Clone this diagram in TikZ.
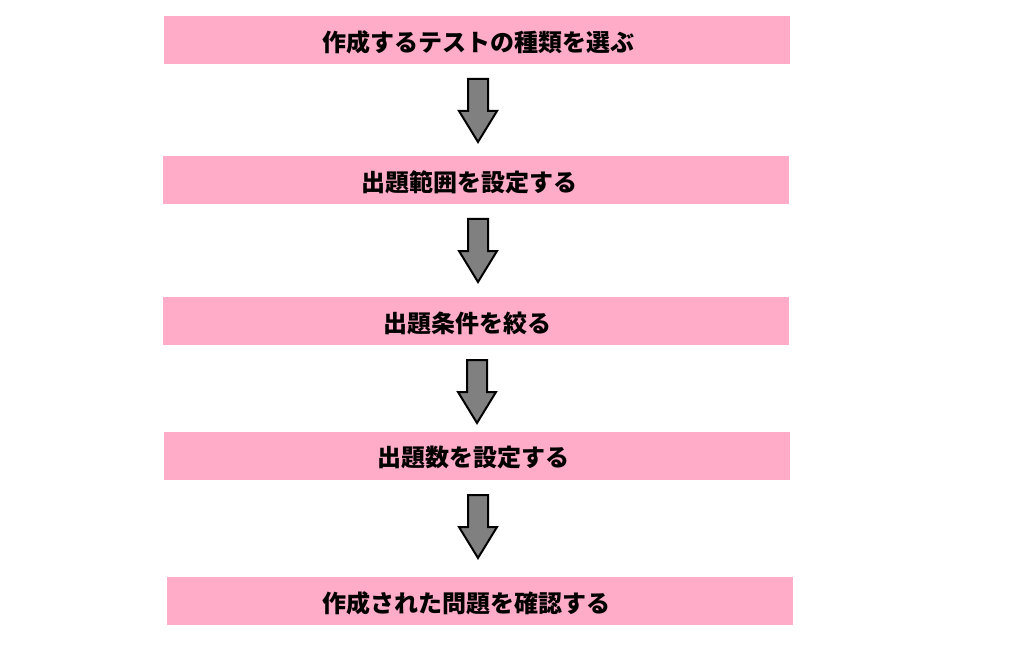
\documentclass[tikz,border=0pt]{standalone}
\usepackage{fontspec}
\newfontfamily\jp{Noto Sans CJK JP}
\definecolor{boxpink}{HTML}{FFACC8}
\definecolor{arrgray}{HTML}{808080}
\tikzset{
  stepbox/.style={fill=boxpink, draw=none, minimum width=626pt, minimum height=48pt, inner sep=0pt},
  steplabel/.style={font=\jp\bfseries\fontsize{24}{24}\selectfont, inner sep=0pt, text=black},
  blockarrow/.style={fill=arrgray, draw=black, line width=2pt, line join=miter}
}
\newcommand{\blockarr}[1]{%
  \draw[blockarrow] ($(#1)+(-10,0)$) -- ($(#1)+(10,0)$) -- ($(#1)+(10,32)$) -- ($(#1)+(19,32)$)
    -- ($(#1)+(0,63)$) -- ($(#1)+(-19,32)$) -- ($(#1)+(-10,32)$) -- cycle;}
\usetikzlibrary{calc}
\begin{document}
\begin{tikzpicture}[x=1pt,y=-1pt]
\useasboundingbox[fill=white] (0,0) rectangle (1036,663);
\node[stepbox] (b1) at (477,40) {};
\node[stepbox] (b2) at (476,180) {};
\node[stepbox] (b3) at (476,321) {};
\node[stepbox] (b4) at (477,456) {};
\node[stepbox] (b5) at (480,601) {};
\node[steplabel] (t1) at (478,42) {作成するテストの種類を選ぶ};
\node[steplabel] (t2) at (469,182) {出題範囲を設定する};
\node[steplabel] (t3) at (467,323) {出題条件を絞る};
\node[steplabel] (t4) at (473,457) {出題数を設定する};
\node[steplabel] (t5) at (466,603) {作成された問題を確認する};
\coordinate (a1) at (478,79);
\coordinate (a2) at (478,219);
\coordinate (a3) at (477,360);
\coordinate (a4) at (478,495);
\blockarr{a1}
\blockarr{a2}
\blockarr{a3}
\blockarr{a4}
\end{tikzpicture}
\end{document}
